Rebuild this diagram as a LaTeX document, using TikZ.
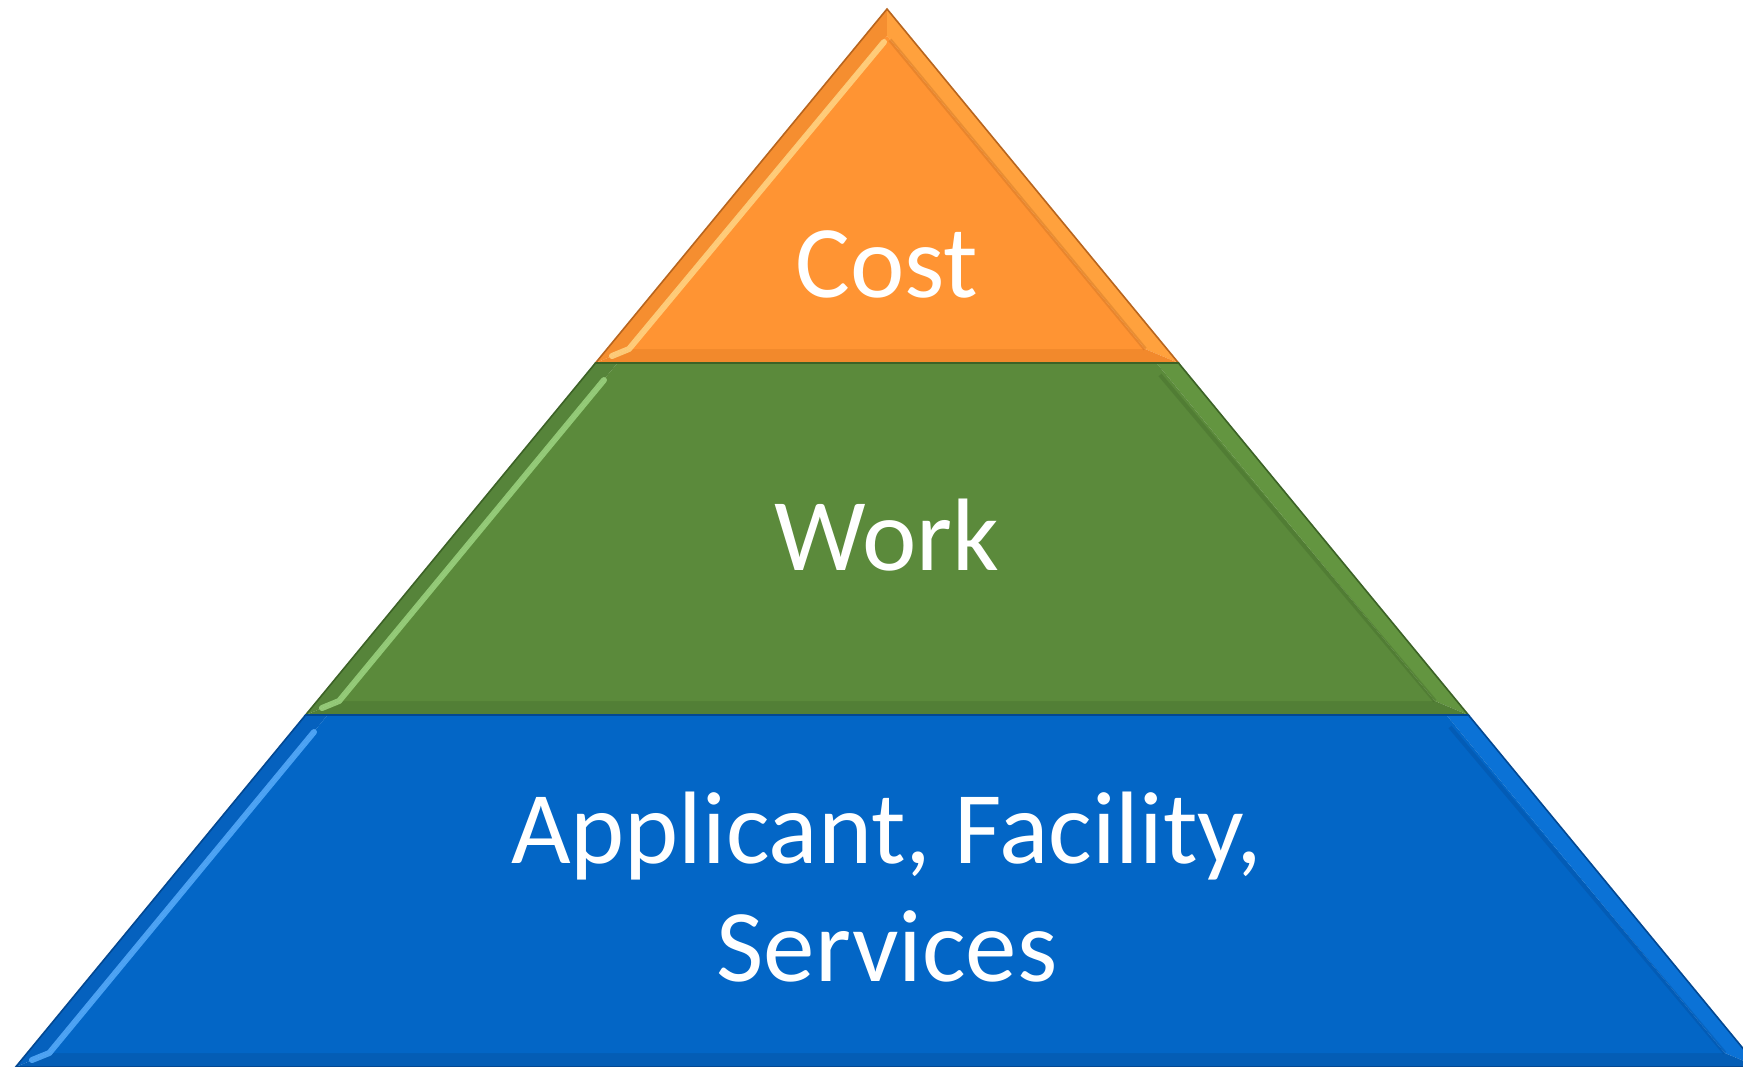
\documentclass[tikz,border=0pt]{standalone}
\usepackage{fontspec}
\setmainfont{Carlito}
\definecolor{oBase}{HTML}{FF9433}
\definecolor{oLeft}{HTML}{F58E30}
\definecolor{oRight}{HTML}{FFA13D}
\definecolor{oBot}{HTML}{F2892C}
\definecolor{oHi}{HTML}{FFD98A}
\definecolor{oLine}{HTML}{B8651E}
\definecolor{gBase}{HTML}{5B8A3B}
\definecolor{gLeft}{HTML}{56843A}
\definecolor{gRight}{HTML}{639540}
\definecolor{gBot}{HTML}{527F36}
\definecolor{gHi}{HTML}{A2DA86}
\definecolor{gLine}{HTML}{3C6226}
\definecolor{bBase}{HTML}{0366C6}
\definecolor{bLeft}{HTML}{0561BE}
\definecolor{bRight}{HTML}{0B72D6}
\definecolor{bBot}{HTML}{045DB5}
\definecolor{bHi}{HTML}{5EB2FF}
\definecolor{bLine}{HTML}{034892}
\tikzset{
  label/.style={text=white, font=\fontsize{103}{118}\selectfont, inner sep=0pt, align=center},
  hilite/.style={line width=6pt, line cap=round, line join=round, opacity=0.8},
  shade line/.style={line width=4pt, opacity=0.3},
  outline/.style={line width=1.6pt, line join=miter}
}
\begin{document}
\begin{tikzpicture}[x=1pt,y=-1pt]
\useasboundingbox (0,0) rectangle (1743,1067);
\clip (0,0) rectangle (1743,1067);
% ---------- Cost layer ----------
\fill[oLeft]  (887,9) -- (595.5,363) -- (629,349) -- (887,36) -- cycle;
\fill[oRight] (887,9) -- (1178.5,363) -- (1145,349) -- (887,36) -- cycle;
\fill[oBot]   (595.5,363) -- (1178.5,363) -- (1145,349) -- (629,349) -- cycle;
\fill[oBase]  (887,36) -- (1145,349) -- (629,349) -- cycle;
\draw[oHi, hilite] (884,42) -- (629,349) -- (612,356);
\draw[oLine, shade line] (890,40) -- (1145,349);
\draw[oLine, outline] (887,9) -- (595.5,363) -- (1178.5,363) -- cycle;
% ---------- Work layer ----------
\fill[gLeft]  (595.5,363) -- (305.6,715) -- (339.1,701) -- (617.5,363) -- cycle;
\fill[gRight] (1178.5,363) -- (1468.4,715) -- (1434.9,701) -- (1156.5,363) -- cycle;
\fill[gBot]   (305.6,715) -- (1468.4,715) -- (1434.9,701) -- (339.1,701) -- cycle;
\fill[gBase]  (617.5,363) -- (1156.5,363) -- (1434.9,701) -- (339.1,701) -- cycle;
\draw[gHi, hilite] (604,380) -- (339.1,701) -- (322,708);
\draw[gLine, shade line] (1160,375) -- (1434.9,701);
\draw[gLine, outline] (595.5,363) -- (1178.5,363) -- (1468.4,715) -- (305.6,715) -- cycle;
% ---------- Applicant layer ----------
\fill[bLeft]  (305.6,715) -- (15.7,1067) -- (49.3,1053) -- (327.6,715) -- cycle;
\fill[bRight] (1468.4,715) -- (1758.3,1067) -- (1724.7,1053) -- (1446.4,715) -- cycle;
\fill[bBot]   (15.7,1067) -- (1758.3,1067) -- (1724.7,1053) -- (49.3,1053) -- cycle;
\fill[bBase]  (327.6,715) -- (1446.4,715) -- (1724.7,1053) -- (49.3,1053) -- cycle;
\draw[bHi, hilite] (314,732) -- (49.3,1053) -- (32,1060);
\draw[bLine, shade line] (1450,727) -- (1724.7,1053);
\draw[bLine, outline] (305.6,715) -- (1468.4,715) -- (1758.3,1067) -- (15.7,1067) -- cycle;
% ---------- labels ----------
\node[label, anchor=base] (cost) at (887,298) {Cost};
\node[label, anchor=base] (work) at (887,570) {Work};
\node[label, anchor=base] (app) at (887,981) {Applicant, Facility,\\Services};
\end{tikzpicture}
\end{document}
